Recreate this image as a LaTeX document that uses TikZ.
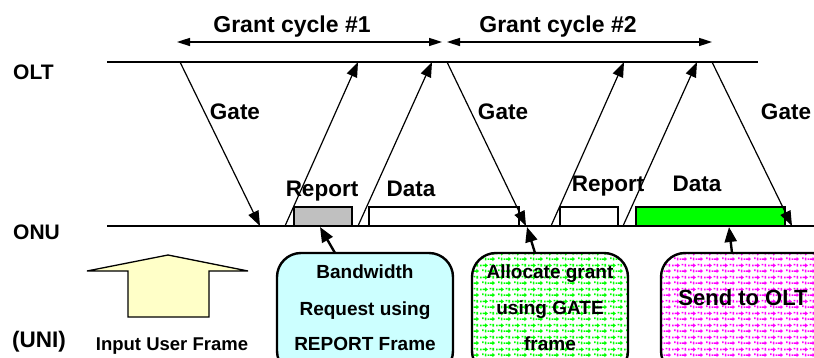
\documentclass[tikz,border=0pt]{standalone}
\usepackage{fontspec}
\setmainfont{Liberation Sans}
\usetikzlibrary{arrows.meta,patterns}

% small scattered marks used as a texture fill
\pgfdeclarepatternformonly{speckle}{\pgfpointorigin}{\pgfpoint{16pt}{12pt}}{\pgfpoint{16pt}{12pt}}{%
  % upper row
  \pgfpathrectangle{\pgfpoint{0pt}{8.2pt}}{\pgfpoint{1.8pt}{1.8pt}}%
  \pgfpathrectangle{\pgfpoint{2.8pt}{8.4pt}}{\pgfpoint{2.8pt}{1.6pt}}%
  \pgfpathmoveto{\pgfpoint{5.4pt}{6.9pt}}\pgfpathlineto{\pgfpoint{8.4pt}{9.2pt}}\pgfpathlineto{\pgfpoint{5.4pt}{11.5pt}}\pgfpathclose
  \pgfpathrectangle{\pgfpoint{10.2pt}{9.2pt}}{\pgfpoint{1.7pt}{1.7pt}}%
  \pgfpathrectangle{\pgfpoint{13.2pt}{7.8pt}}{\pgfpoint{1.6pt}{3pt}}%
  % lower row, shifted
  \pgfpathrectangle{\pgfpoint{8pt}{2.2pt}}{\pgfpoint{1.8pt}{1.8pt}}%
  \pgfpathrectangle{\pgfpoint{10.8pt}{2.4pt}}{\pgfpoint{2.6pt}{1.6pt}}%
  \pgfpathmoveto{\pgfpoint{13.2pt}{0.9pt}}\pgfpathlineto{\pgfpoint{15.9pt}{3.2pt}}\pgfpathlineto{\pgfpoint{13.2pt}{5.5pt}}\pgfpathclose
  \pgfpathrectangle{\pgfpoint{2.2pt}{3.2pt}}{\pgfpoint{1.7pt}{1.7pt}}%
  \pgfpathrectangle{\pgfpoint{5.2pt}{1.8pt}}{\pgfpoint{1.6pt}{3pt}}%
  \pgfusepath{fill}}

\definecolor{slotgray}{RGB}{192,192,192}
\definecolor{datagreen}{RGB}{0,255,0}
\definecolor{softcyan}{RGB}{204,255,255}
\definecolor{softyellow}{RGB}{255,255,200}
\definecolor{specklegreen}{RGB}{0,255,0}
\definecolor{specklemagenta}{RGB}{255,0,255}

\begin{document}
\begin{tikzpicture}[x=1pt,y=-1pt,
  lbl/.style={font=\bfseries\fontsize{22.5}{26}\selectfont, anchor=base, inner sep=0pt},
  boxtxt/.style={font=\bfseries\fontsize{19}{22}\selectfont, anchor=base, inner sep=0pt},
  timeline/.style={line width=1.8pt},
  msg/.style={line width=1.2pt, -{Triangle[length=15pt,width=11pt]}},
  cycle/.style={line width=1.6pt, {Triangle[length=13pt,width=8pt]}-{Triangle[length=13pt,width=8pt]}},
  slot/.style={draw, line width=1.6pt, rectangle, inner sep=0pt},
  roundbox/.style={draw, line width=2.4pt, rounded corners=24pt, rectangle, inner sep=0pt},
  pointer/.style={line width=2.4pt, -{Triangle[length=15pt,width=12pt]}}
]
\useasboundingbox (0,0) rectangle (814,358);
\clip (0,0) rectangle (814,358);

% ---------- side labels ----------
\node[lbl, anchor=base west, font=\bfseries\fontsize{21}{24}\selectfont] (olt) at (13,80) {OLT};
\node[lbl, anchor=base west, font=\bfseries\fontsize{21}{24}\selectfont] (onu) at (13,240) {ONU};
\node[lbl, anchor=base west] (uni) at (12,347) {(UNI)};

% ---------- transmission slots on the ONU line ----------
\node[slot, fill=slotgray, minimum width=58pt, minimum height=19pt] (rep1) at (323,216.5) {};
\node[slot, fill=white, minimum width=150pt, minimum height=19pt] (dat1) at (444,216.5) {};
\node[slot, fill=white, minimum width=58pt, minimum height=19pt] (rep2) at (589,216.5) {};
\node[slot, fill=datagreen, minimum width=149pt, minimum height=19pt] (dat2) at (710.5,216.5) {};

% ---------- OLT and ONU time lines ----------
\coordinate (oltL) at (107,62);
\coordinate (oltR) at (758,62);
\coordinate (onuL) at (107,226);
\coordinate (onuR) at (814,226);
\draw[timeline] (oltL) -- (oltR);
\draw[timeline] (onuL) -- (onuR);

% ---------- grant cycles ----------
\coordinate (c1a) at (177,42);
\coordinate (c1b) at (442,42);
\coordinate (c2a) at (447,42);
\coordinate (c2b) at (712,42);
\draw[cycle] (c1a) -- (c1b);
\draw[cycle] (c2a) -- (c2b);
\node[lbl, font=\bfseries\fontsize{23}{26}\selectfont] (gc1) at (292,33) {Grant cycle \#1};
\node[lbl, font=\bfseries\fontsize{23}{26}\selectfont] (gc2) at (558,33) {Grant cycle \#2};

% ---------- GATE messages (OLT -> ONU) ----------
\coordinate (g1s) at (180,62);  \coordinate (g1e) at (260,226);
\coordinate (g2s) at (447,62);  \coordinate (g2e) at (526,226);
\coordinate (g3s) at (712,62);  \coordinate (g3e) at (792,226);
\draw[msg] (g1s) -- (g1e);
\draw[msg] (g2s) -- (g2e);
\draw[msg] (g3s) -- (g3e);
\node[lbl] (gate1) at (235,120) {Gate};
\node[lbl] (gate2) at (503,120) {Gate};
\node[lbl] (gate3) at (786,120) {Gate};

% ---------- REPORT and data (ONU -> OLT) ----------
\coordinate (r1s) at (285,226); \coordinate (r1e) at (358,62);
\coordinate (d1s) at (358,226); \coordinate (d1e) at (432,62);
\coordinate (r2s) at (551,226); \coordinate (r2e) at (624,62);
\coordinate (d2s) at (623,226); \coordinate (d2e) at (697,62);
\draw[msg] (r1s) -- (r1e);
\draw[msg] (d1s) -- (d1e);
\draw[msg] (r2s) -- (r2e);
\draw[msg] (d2s) -- (d2e);
\node[lbl] (replbl1) at (322,197) {Report};
\node[lbl] (datlbl1) at (411,197) {Data};
\node[lbl] (replbl2) at (608,192) {Report};
\node[lbl] (datlbl2) at (697,192) {Data};

% ---------- user frame input ----------
\draw[line width=1.3pt, fill=softyellow]
  (87,271) -- (168,255) -- (248,271) -- (209,271) -- (209,317)
  -- (128,317) -- (128,271) -- cycle;
\node[boxtxt, font=\bfseries\fontsize{18.5}{22}\selectfont] (input) at (172,350) {Input User Frame};

% ---------- ONU actions ----------
\node[roundbox, fill=softcyan, minimum width=176pt, minimum height=122pt] (bw) at (365,314) {};
\node[boxtxt] (bwt1) at (365,279) {Bandwidth};
\node[boxtxt] (bwt2) at (365,315) {Request using};
\node[boxtxt] (bwt3) at (365,350) {REPORT Frame};

\node[roundbox, preaction={fill=white}, pattern=speckle, pattern color=specklegreen,
      minimum width=156pt, minimum height=122pt] (alloc) at (550,314) {};
\node[boxtxt] (alt1) at (550,279) {Allocate grant};
\node[boxtxt] (alt2) at (550,314) {using GATE};
\node[boxtxt] (alt3) at (550,350) {frame};

\node[roundbox, preaction={fill=white}, pattern=speckle, pattern color=specklemagenta,
      minimum width=176pt, minimum height=122pt] (send) at (749,314) {};
\node[lbl, font=\bfseries\fontsize{22}{26}\selectfont] (sendt) at (743,305) {Send to OLT};

% ---------- pointers from actions to slots ----------
\coordinate (bwtail) at (335,253);   \coordinate (bwtip) at (320,227);
\coordinate (altail) at (535,253);   \coordinate (altip) at (527,227);
\coordinate (sdtail) at (732,253);   \coordinate (sdtip) at (729,227);
\draw[pointer] (bwtail) -- (bwtip);
\draw[pointer] (altail) -- (altip);
\draw[pointer] (sdtail) -- (sdtip);
\end{tikzpicture}
\end{document}
